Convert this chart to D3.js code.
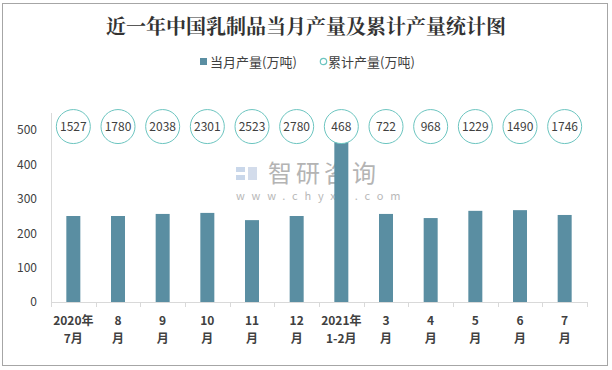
<!DOCTYPE html>
<html>
<head>
<meta charset="utf-8">
<script src="https://cdn.jsdelivr.net/npm/d3@7"></script>
<style>
  body { margin: 0; background: #fff; }
  text { font-family: "Noto Sans CJK SC", "Noto Sans", sans-serif; }
</style>
</head>
<body>
<div id="chart"></div>
<script>
// data
const months = ["2020年|7月", "8|月", "9|月", "10|月", "11|月", "12|月", "2021年|1-2月", "3|月", "4|月", "5|月", "6|月", "7|月"];
const monthly = [250, 250, 256, 259, 238, 250, 468, 256, 244, 265, 267, 253];
const cumulative = [1527, 1780, 2038, 2301, 2523, 2780, 468, 722, 968, 1229, 1490, 1746];
const yTicks = [0, 100, 200, 300, 400, 500];

const width = 612, height = 370;
const margin = {top: 113, right: 25, bottom: 68, left: 51};

const svg = d3.select("#chart").append("svg")
  .attr("width", width)
  .attr("height", height);

// outer frame
svg.append("rect")
  .attr("x", 2.5).attr("y", 3.5)
  .attr("width", 605).attr("height", 362)
  .attr("fill", "#fff")
  .attr("stroke", "#a6a6a6");

// title
svg.append("text")
  .attr("x", 306).attr("y", 34)
  .attr("text-anchor", "middle")
  .style("font-family", "'Noto Serif CJK SC', 'Noto Sans CJK SC', serif")
  .style("font-size", "20px")
  .style("font-weight", "bold")
  .attr("fill", "#333")
  .text("近一年中国乳制品当月产量及累计产量统计图");

// legend
const legend = svg.append("g").attr("transform", "translate(200,62)");
legend.append("rect")
  .attr("x", 0).attr("y", -4).attr("width", 7).attr("height", 7)
  .attr("fill", "#5a8ea2");
legend.append("text")
  .attr("x", 10).attr("y", 4.5)
  .style("font-size", "13px").attr("fill", "#404040")
  .text("当月产量(万吨)");
legend.append("circle")
  .attr("cx", 123.5).attr("cy", -0.5).attr("r", 3.2)
  .attr("fill", "#fff").attr("stroke", "#6cc5c0").attr("stroke-width", 1.2);
legend.append("text")
  .attr("x", 128).attr("y", 4.5)
  .style("font-size", "13px").attr("fill", "#404040")
  .text("累计产量(万吨)");

const g = svg.append("g")
  .attr("transform", "translate(" + margin.left + "," + margin.top + ")");

const innerW = width - margin.left - margin.right;
const innerH = height - margin.top - margin.bottom;

const x = d3.scaleBand()
  .domain(months)
  .range([0, innerW]);

const y = d3.scaleLinear()
  .domain([0, 500])
  .range([189, 17]);

// watermark (behind bars)
const wm = g.append("g").attr("transform", "translate(185,54)");
wm.append("rect").attr("x", 0).attr("y", 0).attr("width", 9).attr("height", 5).attr("fill", "#c9d7ea");
wm.append("rect").attr("x", 0).attr("y", 8).attr("width", 9).attr("height", 5).attr("fill", "#c9d7ea");
wm.append("rect").attr("x", 12).attr("y", 0).attr("width", 9).attr("height", 13).attr("fill", "#d3dceb");
wm.append("text")
  .attr("x", 32).attr("y", 15)
  .style("font-size", "24px")
  .style("letter-spacing", "4px")
  .attr("fill", "#b4b4b4")
  .text("智研咨询");
wm.append("text")
  .attr("x", 0).attr("y", 33)
  .style("font-size", "11px")
  .style("letter-spacing", "6.8px")
  .attr("fill", "#b8b8b8")
  .text("www.chyxx.com");

// y axis
const yAxis = g.append("g")
  .call(d3.axisLeft(y).tickValues(yTicks).tickSize(0).tickPadding(14));
yAxis.select(".domain").remove();
yAxis.selectAll("text")
  .style("font-size", "12px")
  .attr("fill", "#404040");
g.append("line")
  .attr("x1", 0.5).attr("x2", 0.5)
  .attr("y1", 0).attr("y2", y(0))
  .attr("stroke", "#d9d9d9");

// bars
const barW = 14;
g.selectAll(".bar")
  .data(monthly)
  .enter().append("rect")
  .attr("class", "bar")
  .attr("x", (d, i) => x(months[i]) + x.bandwidth() / 2 - barW / 2)
  .attr("y", d => y(d))
  .attr("width", barW)
  .attr("height", d => y(0) - y(d))
  .attr("fill", "#5a8ea2");

// x axis
const xAxisG = g.append("g").attr("transform", "translate(0," + y(0) + ")");
xAxisG.append("line")
  .attr("x1", 0).attr("x2", innerW)
  .attr("y1", 0.5).attr("y2", 0.5)
  .attr("stroke", "#d9d9d9");
xAxisG.selectAll(".tick")
  .data(d3.range(months.length + 1))
  .enter().append("line")
  .attr("x1", i => Math.round(i * x.step()) + 0.5)
  .attr("x2", i => Math.round(i * x.step()) + 0.5)
  .attr("y1", 0).attr("y2", 5)
  .attr("stroke", "#d9d9d9");
const labels = xAxisG.selectAll(".xlab")
  .data(months)
  .enter().append("text")
  .attr("text-anchor", "middle")
  .attr("x", d => x(d) + x.bandwidth() / 2)
  .style("font-size", "12px")
  .style("font-weight", "bold")
  .attr("fill", "#404040");
labels.append("tspan")
  .attr("x", d => x(d) + x.bandwidth() / 2)
  .attr("y", 23)
  .text(d => d.split("|")[0]);
labels.append("tspan")
  .attr("x", d => x(d) + x.bandwidth() / 2)
  .attr("y", 41)
  .text(d => d.split("|")[1]);

// cumulative labels in circles, placed in a row above the plot
const labelRow = 510;
const circ = g.selectAll(".cum")
  .data(cumulative)
  .enter().append("g")
  .attr("transform", (d, i) => "translate(" + (x(months[i]) + x.bandwidth() / 2) + "," + y(labelRow) + ")");
circ.append("circle")
  .attr("r", 17)
  .attr("fill", "#fff")
  .attr("stroke", "#6cc5c0")
  .attr("stroke-width", 1);
circ.append("text")
  .attr("text-anchor", "middle")
  .attr("y", 4.5)
  .style("font-size", "12px")
  .attr("fill", "#404040")
  .text(d => d);
</script>
</body>
</html>
